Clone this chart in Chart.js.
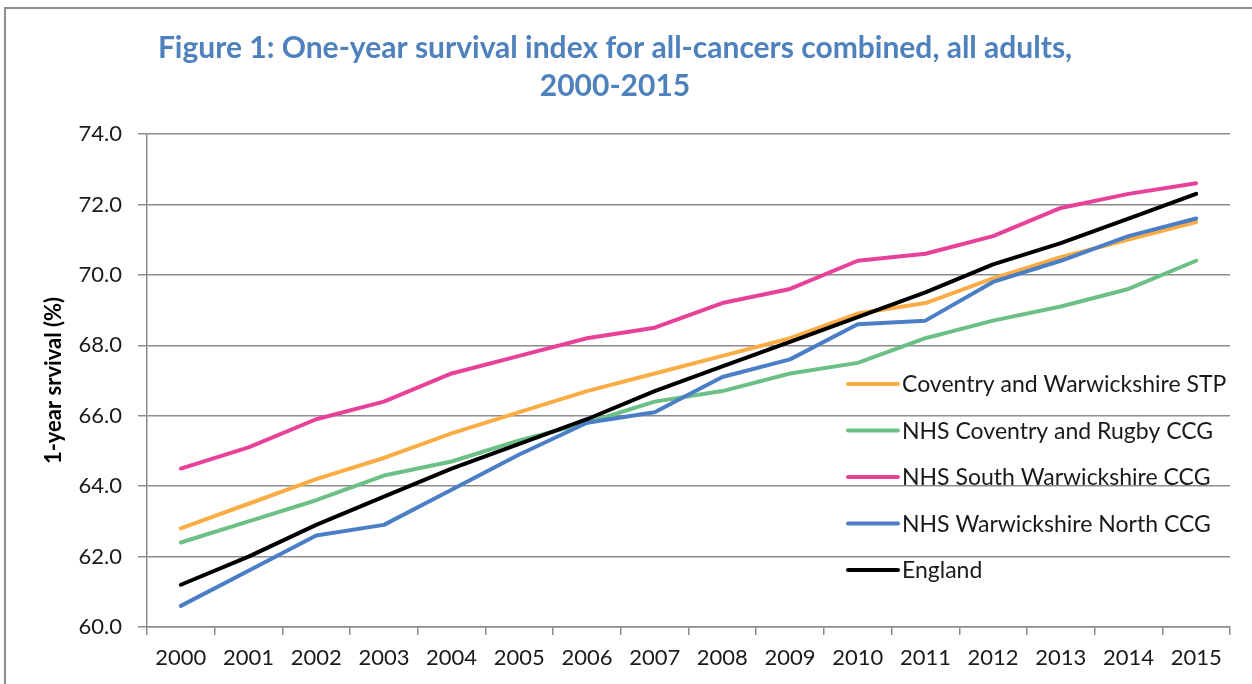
<!DOCTYPE html>
<html>
<head>
<meta charset="utf-8">
<script src="https://cdn.jsdelivr.net/npm/chart.js@4.4.1/dist/chart.umd.min.js"></script>
<style>
  html, body { margin: 0; padding: 0; background: #fff; overflow: hidden; }
  #wrap { position: relative; width: 1252px; height: 684px; }
  #frame { position: absolute; left: 4px; top: 7px; width: 1400px; height: 800px; border: 2px solid #8c8c8c; box-sizing: border-box; }
  canvas { position: absolute; left: 0; top: 0; }
</style>
</head>
<body>
<div id="wrap">
  <div id="frame"></div>
  <canvas id="myChart" width="1252" height="684"></canvas>
</div>
<script>
// Years on the x axis
const years = ['2000', '2001', '2002', '2003', '2004', '2005', '2006', '2007',
               '2008', '2009', '2010', '2011', '2012', '2013', '2014', '2015'];

// One-year survival (%)
const stp = [62.8, 63.5, 64.2, 64.8, 65.5, 66.1, 66.7, 67.2, 67.7, 68.2, 68.9, 69.2, 69.9, 70.5, 71.0, 71.5];
const coventryRugby = [62.4, 63.0, 63.6, 64.3, 64.7, 65.3, 65.8, 66.4, 66.7, 67.2, 67.5, 68.2, 68.7, 69.1, 69.6, 70.4];
const southWarks = [64.5, 65.1, 65.9, 66.4, 67.2, 67.7, 68.2, 68.5, 69.2, 69.6, 70.4, 70.6, 71.1, 71.9, 72.3, 72.6];
const warksNorth = [60.6, 61.6, 62.6, 62.9, 63.9, 64.9, 65.8, 66.1, 67.1, 67.6, 68.6, 68.7, 69.8, 70.4, 71.1, 71.6];
const england = [61.2, 62.0, 62.9, 63.7, 64.5, 65.2, 65.9, 66.7, 67.4, 68.1, 68.8, 69.5, 70.3, 70.9, 71.6, 72.3];

const fontFamily = 'Lato, "Open Sans", sans-serif';

function series(label, values, colour, order) {
    return {
        label: label,
        data: values,
        borderColor: colour,
        backgroundColor: colour,
        borderWidth: 4,
        pointRadius: 0,
        pointHoverRadius: 0,
        tension: 0,
        fill: false,
        borderCapStyle: 'round',
        borderJoinStyle: 'round',
        order: order,
    };
}

const data = {
    labels: years,
    datasets: [
        series('Coventry and Warwickshire STP', stp, '#fbad45', 4),
        series('NHS Coventry and Rugby CCG', coventryRugby, '#6cc086', 3),
        series('NHS South Warwickshire CCG', southWarks, '#e8419a', 2),
        series('NHS Warwickshire North CCG', warksNorth, '#4a7ec6', 1),
        series('England', england, '#000000', 0),
    ],
};

// Legend drawn inside the plot area, like the original
const insideLegend = {
    id: 'insideLegend',
    afterDraw(chart) {
        const ctx = chart.ctx;
        const area = chart.chartArea;
        const x0 = area.left + 701;
        let y = area.top + 250;
        ctx.save();
        ctx.font = '23px ' + fontFamily;
        ctx.textBaseline = 'middle';
        chart.data.datasets.forEach(ds => {
            ctx.strokeStyle = ds.borderColor;
            ctx.lineWidth = 4;
            ctx.lineCap = 'round';
            ctx.beginPath();
            ctx.moveTo(x0, y);
            ctx.lineTo(x0 + 50, y);
            ctx.stroke();
            ctx.fillStyle = '#1a1a1a';
            ctx.fillText(ds.label, x0 + 54, y + 1);
            y += 46.5;
        });
        ctx.restore();
    }
};

const options = {
    responsive: false,
    animation: false,
    layout: { padding: { left: 0, right: 22, top: 0, bottom: 0 } },
    plugins: {
        legend: { display: false },
        tooltip: { enabled: false },
        title: {
            display: true,
            text: ['Figure 1: One-year survival index for all-cancers combined, all adults,', '2000-2015'],
            color: '#4f81bd',
            font: { family: fontFamily, size: 30, weight: 'bold', lineHeight: 1.25 },
            padding: { top: 30, bottom: 29 },
        },
    },
    scales: {
        x: {
            type: 'category',
            offset: true,
            grid: {
                offset: true,
                drawOnChartArea: false,
                drawTicks: true,
                tickLength: 8,
                color: '#8c8c8c',
                lineWidth: 1.5,
            },
            border: { color: '#8c8c8c', width: 1.5 },
            ticks: {
                color: '#1a1a1a',
                font: { family: fontFamily, size: 22 },
                padding: 10,
                maxRotation: 0,
                autoSkip: false,
            },
            afterFit(scale) { scale.height = 57; },
        },
        y: {
            min: 60,
            max: 74,
            ticks: {
                stepSize: 2,
                color: '#1a1a1a',
                font: { family: fontFamily, size: 22 },
                padding: 16,
                callback: v => Number(v).toFixed(1),
            },
            grid: {
                color: '#8c8c8c',
                lineWidth: 1.5,
                tickLength: 9,
            },
            border: { color: '#8c8c8c', width: 1.5 },
            title: {
                display: true,
                text: '1-year srvival (%)',
                color: '#000',
                font: { family: fontFamily, size: 22, weight: 'bold' },
                padding: { top: 41, bottom: 0 },
            },
            afterFit(scale) { scale.width = 147; },
        },
    },
};

const ctx = document.getElementById('myChart').getContext('2d');
const myChart = new Chart(ctx, {
    type: 'line',
    data: data,
    options: options,
    plugins: [insideLegend],
});
</script>
</body>
</html>
